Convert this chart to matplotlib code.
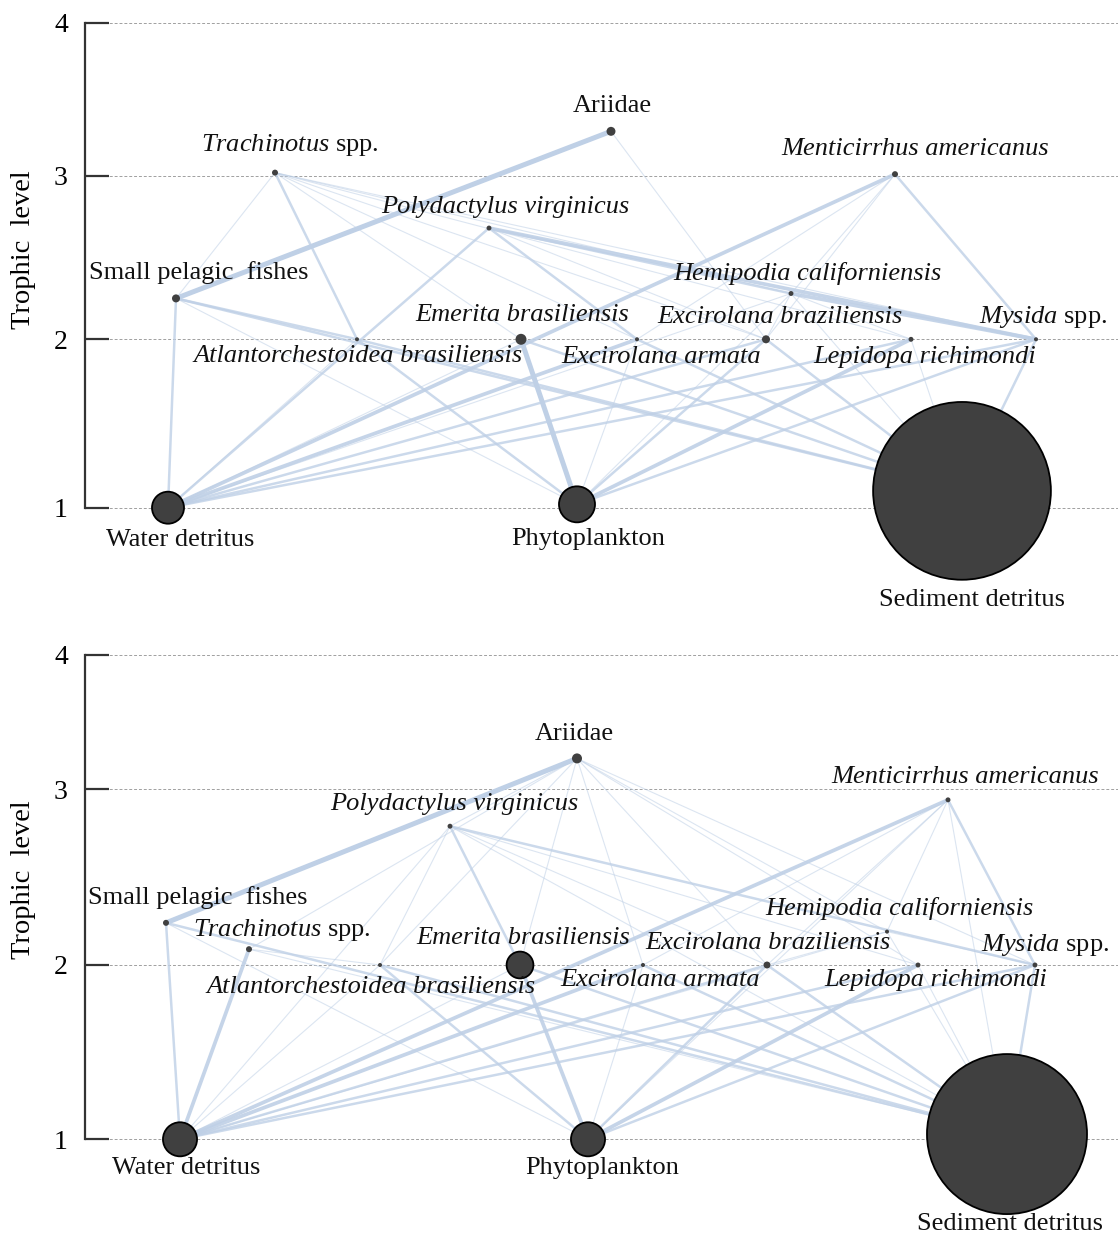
import numpy as np
import matplotlib.pyplot as plt

plt.rcParams['font.family'] = ['Liberation Serif', 'DejaVu Serif']
plt.rcParams['mathtext.fontset'] = 'custom'
plt.rcParams['mathtext.rm'] = 'Liberation Serif'
plt.rcParams['mathtext.it'] = 'Liberation Serif:italic'

# ---- data -------------------------------------------------------------
GROUPS = ['SPF', 'TRA', 'ARI', 'MEN', 'POL', 'HEM', 'EME', 'ATL',
          'EXA', 'EXB', 'LEP', 'MYS', 'WD', 'PHY', 'SED']
LABELS = ['Small pelagic  fishes', r'$\mathit{Trachinotus}$ spp.', 'Ariidae',
          'Menticirrhus americanus', 'Polydactylus virginicus',
          'Hemipodia californiensis', 'Emerita brasiliensis',
          'Atlantorchestoidea brasiliensis', 'Excirolana armata',
          'Excirolana braziliensis', 'Lepidopa richimondi',
          r'$\mathit{Mysida}$ spp.', 'Water detritus', 'Phytoplankton',
          'Sediment detritus']
ITALIC = [False, False, False, True, True, True, True, True,
          True, True, True, False, False, False, False]

# trophic level of each group
TL_TOP = [2.25, 3.02, 3.29, 3.01, 2.68, 2.28, 2.0, 2.0, 2.0, 2.0, 2.0, 2.0, 1.0, 1.02, 1.1]
TL_BOT = [2.24, 2.09, 3.23, 2.94, 2.79, 2.19, 2.0, 2.0, 2.0, 2.0, 2.0, 2.0, 1.0, 1.0, 1.03]

# biomass (circle area)
BIOMASS_TOP = [0.16, 0.09, 0.2, 0.09, 0.06, 0.06, 0.3, 0.04, 0.04, 0.16, 0.06, 0.04, 2.56, 3.24, 79.0]
BIOMASS_BOT = [0.09, 0.09, 0.25, 0.06, 0.06, 0.04, 1.8, 0.04, 0.04, 0.12, 0.06, 0.06, 2.9, 2.9, 64.0]

# flows (predator, prey, strength 1-4)
FLOWS_TOP = [
    ('ARI', 'SPF', 4), ('ARI', 'EXB', 1),
    ('TRA', 'SPF', 1), ('TRA', 'ATL', 2), ('TRA', 'EME', 1), ('TRA', 'EXA', 1),
    ('TRA', 'EXB', 1), ('TRA', 'HEM', 1), ('TRA', 'LEP', 1), ('TRA', 'MYS', 1),
    ('MEN', 'WD', 3), ('MEN', 'MYS', 2), ('MEN', 'HEM', 1), ('MEN', 'EXB', 1),
    ('MEN', 'EXA', 1),
    ('POL', 'WD', 2), ('POL', 'HEM', 2), ('POL', 'MYS', 3), ('POL', 'EXA', 2),
    ('POL', 'EXB', 1),
    ('SPF', 'WD', 2), ('SPF', 'ATL', 2), ('SPF', 'PHY', 1), ('SPF', 'SED', 2),
    ('HEM', 'MYS', 3), ('HEM', 'EXB', 1), ('HEM', 'LEP', 1), ('HEM', 'SED', 1),
    ('HEM', 'WD', 1), ('HEM', 'PHY', 1),
    ('EME', 'PHY', 4), ('EME', 'SED', 2), ('EME', 'WD', 1),
    ('ATL', 'SED', 2), ('ATL', 'PHY', 2), ('ATL', 'WD', 1),
    ('EXA', 'WD', 3), ('EXA', 'SED', 2), ('EXA', 'PHY', 1),
    ('EXB', 'WD', 2), ('EXB', 'PHY', 2), ('EXB', 'SED', 2),
    ('LEP', 'WD', 2), ('LEP', 'PHY', 3), ('LEP', 'SED', 1),
    ('MYS', 'WD', 2), ('MYS', 'PHY', 2), ('MYS', 'SED', 2),
]
FLOWS_BOT = [
    ('ARI', 'SPF', 4), ('ARI', 'POL', 1), ('ARI', 'EME', 1), ('ARI', 'ATL', 1),
    ('ARI', 'EXB', 1), ('ARI', 'HEM', 1), ('ARI', 'LEP', 1), ('ARI', 'MYS', 1),
    ('ARI', 'EXA', 1), ('ARI', 'TRA', 1),
    ('MEN', 'WD', 3), ('MEN', 'MYS', 2), ('MEN', 'SED', 1), ('MEN', 'HEM', 1),
    ('MEN', 'EXB', 1), ('MEN', 'EXA', 1), ('MEN', 'PHY', 1),
    ('POL', 'EME', 2), ('POL', 'WD', 1), ('POL', 'ATL', 1), ('POL', 'MYS', 2),
    ('POL', 'LEP', 1), ('POL', 'EXB', 1), ('POL', 'SED', 1),
    ('SPF', 'WD', 2), ('SPF', 'SED', 2), ('SPF', 'PHY', 1),
    ('TRA', 'WD', 3), ('TRA', 'SED', 1), ('TRA', 'ATL', 1),
    ('HEM', 'MYS', 1), ('HEM', 'SED', 1), ('HEM', 'EXB', 1), ('HEM', 'WD', 1),
    ('EME', 'PHY', 3), ('EME', 'SED', 2), ('EME', 'WD', 1),
    ('ATL', 'PHY', 2), ('ATL', 'SED', 2), ('ATL', 'WD', 1),
    ('EXA', 'WD', 3), ('EXA', 'SED', 2), ('EXA', 'PHY', 1),
    ('EXB', 'WD', 2), ('EXB', 'PHY', 2), ('EXB', 'SED', 2),
    ('LEP', 'WD', 2), ('LEP', 'PHY', 3), ('LEP', 'SED', 1),
    ('MYS', 'WD', 2), ('MYS', 'PHY', 2), ('MYS', 'SED', 2),
]

# ---- layout -----------------------------------------------------------
W, H = 1118, 1238
X_TOP = [176, 275, 611, 895, 489, 791, 521, 357, 637, 766, 911, 1036, 168, 577, 962]
X_BOT = [166, 249, 577, 948, 450, 887, 520, 380, 643, 767, 918, 1035, 180, 588, 1007]
# label offsets from the node (px right, px down)
OFF_TOP = [(23, -26), (15, -28), (1, -25), (20, -25), (16, -21), (16, -20), (1, -24),
           (1, 17), (24, 18), (14, -22), (14, 18), (7, -22), (12, 32), (11, 35), (10, 109)]
OFF_BOT = [(32, -25), (33, -19), (-3, -24), (17, -23), (4, -22), (12, -23), (3, -27),
           (-9, 22), (17, 15), (1, -22), (18, 15), (10, -20), (6, 29), (14, 29), (3, 90)]
# pixel rows of the 1..4 gridlines (the original spacing is uneven)
TICK_PX_TOP = [507.7, 339.3, 175.7, 22.7]
TICK_PX_BOT = [1139.3, 965.0, 789.3, 655.0]

edge_color = '#bfd0e6'
node_color = '#404040'
LW = [0, 0.8, 1.8, 2.7, 3.6]
ALPHA = [0, 0.55, 0.8, 0.9, 1.0]
YLIM = (0.9, 4.02)


def panel(fig, tick_px, xs, tls, biomass, flows, offsets):
    px = np.asarray(tick_px, dtype=float)
    kt = np.array([0, 1, 2, 3, 4, 5.0])
    kp = np.concatenate([[px[0] + (px[0] - px[1])], px, [px[3] - (px[2] - px[3])]])
    kv = -kp

    def fwd(y):
        return np.interp(y, kt, kv)

    def inv(v):
        return np.interp(v, kv, kt)

    p_lo = -fwd(YLIM[0])
    p_hi = -fwd(YLIM[1])
    left = 84.6
    ax = fig.add_axes([left / W, 1 - p_lo / H, (W - left) / W, (p_lo - p_hi) / H])
    ax.set_yscale('function', functions=(fwd, inv))
    ax.set_xlim(left, W)
    ax.set_ylim(*YLIM)

    idx = {g: i for i, g in enumerate(GROUPS)}
    for pred, prey, w in flows:
        a, b = idx[pred], idx[prey]
        ax.plot([xs[a], xs[b]], [tls[a], tls[b]], color=edge_color,
                lw=LW[w], alpha=ALPHA[w], solid_capstyle='round', zorder=1)

    bio = np.asarray(biomass)
    sizes = 207.4 * bio
    lws = np.where(bio > 1, 1.3, 0.0)
    ax.scatter(xs, tls, s=sizes, c=node_color, edgecolors='black',
               linewidths=lws, zorder=3, clip_on=False)

    for i, lab in enumerate(LABELS):
        dx, dy = offsets[i]
        ax.annotate(lab, (xs[i], tls[i]), xytext=(dx * 0.72, -dy * 0.72),
                    textcoords='offset points', ha='center', va='center',
                    fontsize=19, color='#111111',
                    style='italic' if ITALIC[i] else 'normal', zorder=4)

    ax.set_yticks([1, 2, 3, 4])
    ax.set_yticklabels(['1', '2', '3', '4'])
    ax.set_xticks([])
    ax.tick_params(axis='y', direction='in', length=17, width=1.6,
                   color='#333333', pad=12, labelsize=20)
    ax.yaxis.grid(True, linestyle=(0, (3, 2)), color='#a0a0a0', lw=0.7)
    ax.set_axisbelow(True)
    for s in ['top', 'right', 'bottom']:
        ax.spines[s].set_visible(False)
    ax.spines['left'].set_bounds(1, 4)
    ax.spines['left'].set_color('#333333')
    ax.spines['left'].set_linewidth(1.6)
    ax.patch.set_alpha(0)
    return ax


fig = plt.figure(figsize=(W / 100, H / 100), dpi=100)

panel(fig, TICK_PX_TOP, X_TOP, TL_TOP, BIOMASS_TOP, FLOWS_TOP, OFF_TOP)
panel(fig, TICK_PX_BOT, X_BOT, TL_BOT, BIOMASS_BOT, FLOWS_BOT, OFF_BOT)

fig.text(24 / W, 1 - 250 / H, 'Trophic  level', rotation=90, ha='center',
         va='center', fontsize=20.5)
fig.text(24 / W, 1 - 880 / H, 'Trophic  level', rotation=90, ha='center',
         va='center', fontsize=20.5)

fig.savefig('out.png', dpi=100)
